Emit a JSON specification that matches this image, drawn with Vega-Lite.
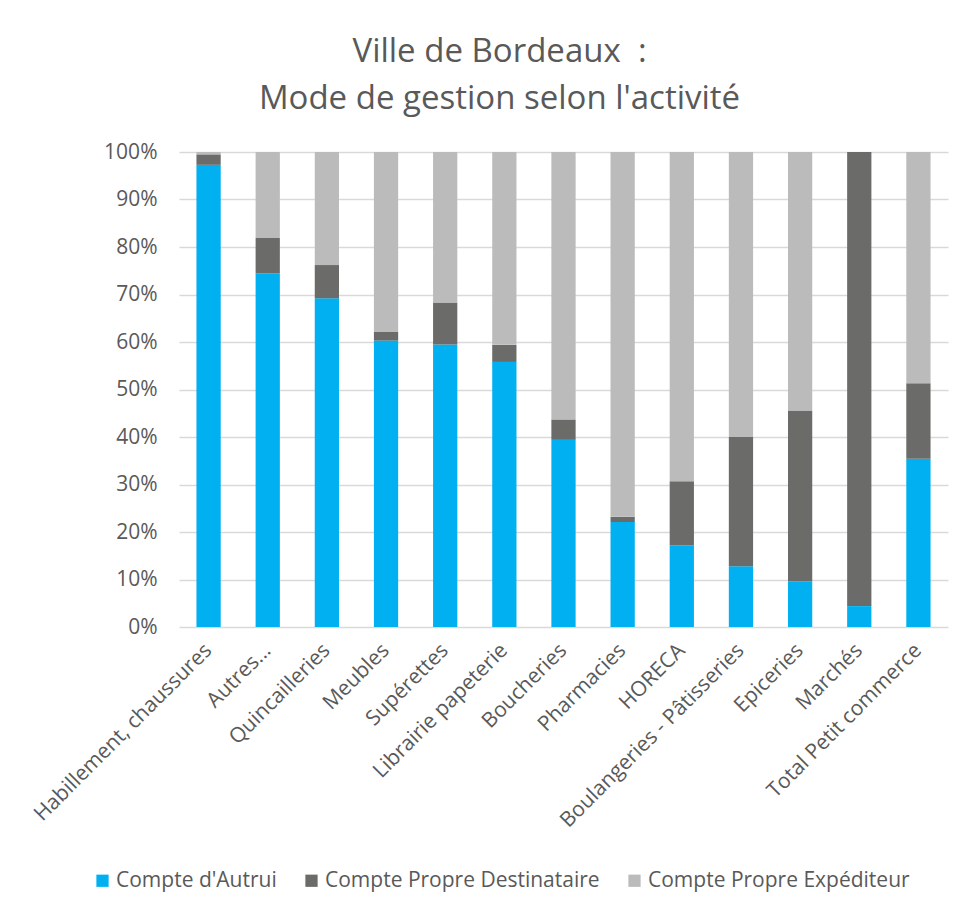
{
  "$schema": "https://vega.github.io/schema/vega-lite/v6.json",
  "width": 769,
  "height": 475,
  "autosize": {"type": "none"},
  "padding": {"left": 179, "top": 152, "right": 30, "bottom": 285},
  "background": "white",
  "title": {
    "text": ["Ville de Bordeaux\u00a0 :", "Mode de gestion selon l'activité"],
    "font": "Open Sans",
    "fontSize": 33,
    "fontWeight": "normal",
    "color": "#595959",
    "anchor": "middle",
    "lineHeight": 47,
    "dx": -64,
    "offset": 25
  },
  "data": {
    "values": [
      {"cat": "Habillement, chaussures", "mode": "Compte d'Autrui", "ord": 1, "v": 97.3},
      {"cat": "Habillement, chaussures", "mode": "Compte Propre Destinataire", "ord": 2, "v": 2.2},
      {"cat": "Habillement, chaussures", "mode": "Compte Propre Expéditeur", "ord": 3, "v": 0.5},
      {"cat": "Autres...", "mode": "Compte d'Autrui", "ord": 1, "v": 74.5},
      {"cat": "Autres...", "mode": "Compte Propre Destinataire", "ord": 2, "v": 7.4},
      {"cat": "Autres...", "mode": "Compte Propre Expéditeur", "ord": 3, "v": 18.1},
      {"cat": "Quincailleries", "mode": "Compte d'Autrui", "ord": 1, "v": 69.2},
      {"cat": "Quincailleries", "mode": "Compte Propre Destinataire", "ord": 2, "v": 7.0},
      {"cat": "Quincailleries", "mode": "Compte Propre Expéditeur", "ord": 3, "v": 23.8},
      {"cat": "Meubles", "mode": "Compte d'Autrui", "ord": 1, "v": 60.3},
      {"cat": "Meubles", "mode": "Compte Propre Destinataire", "ord": 2, "v": 1.8},
      {"cat": "Meubles", "mode": "Compte Propre Expéditeur", "ord": 3, "v": 37.9},
      {"cat": "Supérettes", "mode": "Compte d'Autrui", "ord": 1, "v": 59.5},
      {"cat": "Supérettes", "mode": "Compte Propre Destinataire", "ord": 2, "v": 8.8},
      {"cat": "Supérettes", "mode": "Compte Propre Expéditeur", "ord": 3, "v": 31.7},
      {"cat": "Librairie papeterie", "mode": "Compte d'Autrui", "ord": 1, "v": 55.8},
      {"cat": "Librairie papeterie", "mode": "Compte Propre Destinataire", "ord": 2, "v": 3.6},
      {"cat": "Librairie papeterie", "mode": "Compte Propre Expéditeur", "ord": 3, "v": 40.6},
      {"cat": "Boucheries", "mode": "Compte d'Autrui", "ord": 1, "v": 39.4},
      {"cat": "Boucheries", "mode": "Compte Propre Destinataire", "ord": 2, "v": 4.3},
      {"cat": "Boucheries", "mode": "Compte Propre Expéditeur", "ord": 3, "v": 56.3},
      {"cat": "Pharmacies", "mode": "Compte d'Autrui", "ord": 1, "v": 22.1},
      {"cat": "Pharmacies", "mode": "Compte Propre Destinataire", "ord": 2, "v": 1.1},
      {"cat": "Pharmacies", "mode": "Compte Propre Expéditeur", "ord": 3, "v": 76.8},
      {"cat": "HORECA", "mode": "Compte d'Autrui", "ord": 1, "v": 17.2},
      {"cat": "HORECA", "mode": "Compte Propre Destinataire", "ord": 2, "v": 13.5},
      {"cat": "HORECA", "mode": "Compte Propre Expéditeur", "ord": 3, "v": 69.3},
      {"cat": "Boulangeries - Pâtisseries", "mode": "Compte d'Autrui", "ord": 1, "v": 12.8},
      {"cat": "Boulangeries - Pâtisseries", "mode": "Compte Propre Destinataire", "ord": 2, "v": 27.2},
      {"cat": "Boulangeries - Pâtisseries", "mode": "Compte Propre Expéditeur", "ord": 3, "v": 60.0},
      {"cat": "Epiceries", "mode": "Compte d'Autrui", "ord": 1, "v": 9.6},
      {"cat": "Epiceries", "mode": "Compte Propre Destinataire", "ord": 2, "v": 36.0},
      {"cat": "Epiceries", "mode": "Compte Propre Expéditeur", "ord": 3, "v": 54.4},
      {"cat": "Marchés", "mode": "Compte d'Autrui", "ord": 1, "v": 4.4},
      {"cat": "Marchés", "mode": "Compte Propre Destinataire", "ord": 2, "v": 95.6},
      {"cat": "Marchés", "mode": "Compte Propre Expéditeur", "ord": 3, "v": 0},
      {"cat": "Total Petit commerce", "mode": "Compte d'Autrui", "ord": 1, "v": 35.4},
      {"cat": "Total Petit commerce", "mode": "Compte Propre Destinataire", "ord": 2, "v": 15.9},
      {"cat": "Total Petit commerce", "mode": "Compte Propre Expéditeur", "ord": 3, "v": 48.7}
    ]
  },
  "mark": {"type": "bar"},
  "encoding": {
    "x": {
      "field": "cat",
      "type": "nominal",
      "sort": null,
      "scale": {"paddingInner": 0.59, "paddingOuter": 0.295},
      "axis": {
        "title": null,
        "labelAngle": -45,
        "labelAlign": "right",
        "labelBaseline": "middle",
        "labelPadding": 20,
        "ticks": false,
        "domain": false,
        "labelFont": "Open Sans",
        "labelFontSize": 21,
        "labelColor": "#595959",
        "labelLimit": 400
      }
    },
    "y": {
      "field": "v",
      "type": "quantitative",
      "stack": "zero",
      "scale": {"domain": [0, 100], "nice": false},
      "axis": {
        "title": null,
        "values": [0, 10, 20, 30, 40, 50, 60, 70, 80, 90, 100],
        "labelExpr": "datum.value + '%'",
        "domain": false,
        "ticks": false,
        "labelPadding": 22,
        "labelFont": "Open Sans",
        "labelFontSize": 21,
        "labelColor": "#595959",
        "gridColor": "#D9D9D9",
        "gridWidth": 1.5
      }
    },
    "color": {
      "field": "mode",
      "type": "nominal",
      "scale": {
        "domain": ["Compte d'Autrui", "Compte Propre Destinataire", "Compte Propre Expéditeur"],
        "range": ["#00B0F0", "#6B6B6A", "#BBBBBB"]
      },
      "legend": {
        "title": null,
        "orient": "none",
        "direction": "horizontal",
        "legendX": -87,
        "legendY": 718,
        "symbolType": "square",
        "symbolSize": 150,
        "symbolStrokeWidth": 0,
        "labelFont": "Open Sans",
        "labelFontSize": 21,
        "labelColor": "#595959",
        "labelOffset": 3,
        "columnPadding": 24,
        "padding": 0,
        "labelLimit": 400
      }
    },
    "order": {"field": "ord", "type": "quantitative"}
  },
  "config": {
    "view": {"stroke": null}
  }
}
